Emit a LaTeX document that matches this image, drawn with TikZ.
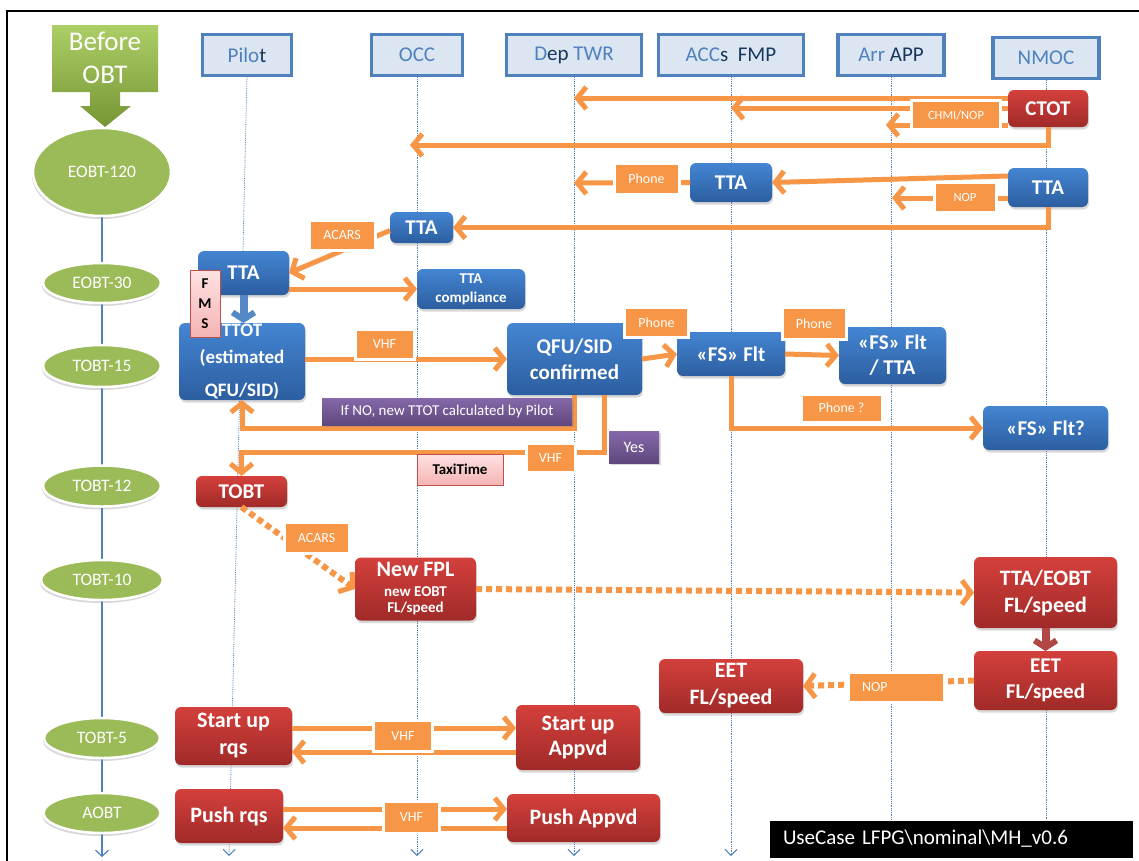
\documentclass[tikz,border=0pt]{standalone}
\usepackage{fontspec}
\setmainfont{Carlito}
\usetikzlibrary{arrows.meta,shapes.geometric,shadows,calc,backgrounds}
\definecolor{orng}{RGB}{247,150,70}
\definecolor{hblue}{RGB}{79,129,189}
\definecolor{hfill}{RGB}{220,230,242}
\definecolor{hdark}{RGB}{23,55,94}
\definecolor{btop}{RGB}{68,133,210}
\definecolor{bbot}{RGB}{44,94,160}
\definecolor{rtop}{RGB}{212,64,60}
\definecolor{rbot}{RGB}{160,42,40}
\definecolor{ptop}{RGB}{134,104,170}
\definecolor{pbot}{RGB}{95,72,125}
\definecolor{pinktop}{RGB}{255,226,226}
\definecolor{pinkbot}{RGB}{245,180,180}
\definecolor{pinkdraw}{RGB}{192,80,77}
\definecolor{egreen}{RGB}{155,187,89}
\definecolor{gtop}{RGB}{172,206,102}
\definecolor{gbot}{RGB}{118,150,52}
\definecolor{blkblue}{RGB}{84,136,198}
\definecolor{blkred}{RGB}{178,70,68}
\begin{document}
\begin{tikzpicture}[x=1pt,y=-1pt,
 every node/.style={inner sep=0pt,outer sep=0pt},
 hdr/.style={draw=hblue,line width=3.5pt,fill=hfill,text=hblue,font=\fontsize{21}{25}\selectfont},
 bx/.style={rounded corners=6pt,top color=btop,bottom color=bbot,text=white,align=center,font=\fontsize{21}{26}\selectfont\bfseries,drop shadow={shadow xshift=1pt,shadow yshift=-2.5pt,opacity=0.3}},
 rbx/.style={bx,top color=rtop,bottom color=rbot},
 lab/.style={fill=orng,draw=white,line width=3pt,text=white,font=\fontsize{14}{16}\selectfont,drop shadow={shadow xshift=1.5pt,shadow yshift=-1.5pt,opacity=0.25}},
 pbx/.style={top color=ptop,bottom color=pbot,text=white,font=\fontsize{15}{18}\selectfont,drop shadow={shadow xshift=1.5pt,shadow yshift=-2pt,opacity=0.3}},
 pk/.style={top color=pinktop,bottom color=pinkbot,draw=pinkdraw,line width=1pt,text=black,font=\fontsize{15}{20}\selectfont\bfseries,align=center},
 ell/.style={ellipse,fill=egreen,draw=white,line width=2.5pt,text=white,font=\fontsize{17.5}{19}\selectfont,drop shadow={shadow xshift=-1pt,shadow yshift=-3pt,opacity=0.3}},
 oarr/.style={draw=orng,line width=5pt,-{Straight Barb[length=9pt,width=22pt]}},
 dotarr/.style={draw=orng,line width=6pt,dash pattern=on 6pt off 4pt,-{Straight Barb[length=9pt,width=24pt,line width=5pt]}},
 life/.style={draw=hblue,line width=0.8pt,densely dotted,-{Straight Barb[length=6pt,width=12pt,line width=1pt]}},
 tl/.style={draw=hblue,line width=1.6pt},
 blk/.style={line width=8pt,-{Straight Barb[length=7pt,width=22pt,line width=6pt]}}
]
\useasboundingbox (0,0) rectangle (1139,860);
\draw[line width=2pt] (7,11) rectangle (1150,880);

% Before OBT
\shade[top color=gtop,bottom color=gbot] (52,25) -- (158,25) -- (158,92) -- (120,92) -- (120,106) -- (131,106) -- (105,127) -- (80,106) -- (90,106) -- (90,92) -- (52,92) -- cycle;
\node[text=white,font=\fontsize{27}{33}\selectfont,align=center] (before) at (105,58) {Before\\OBT};

% timeline ellipses
\node[ell,minimum width=138pt,minimum height=88pt] (e120) at (102,172) {EOBT-120};
\node[ell,minimum width=118pt,minimum height=40pt] (e30) at (102,283) {EOBT-30};
\node[ell,minimum width=118pt,minimum height=42pt] (e15) at (102,366) {TOBT-15};
\node[ell,minimum width=118pt,minimum height=41pt] (e12) at (102,486) {TOBT-12};
\node[ell,minimum width=122pt,minimum height=40pt] (e10) at (102,580) {TOBT-10};
\node[ell,minimum width=116pt,minimum height=40pt] (e5) at (102,738) {TOBT-5};
\node[ell,minimum width=117pt,minimum height=40pt] (eA) at (102,813) {AOBT};
\coordinate (bT) at (102,857);

% headers
\node[hdr,minimum width=89pt,minimum height=41pt] (hPilot) at (247,55) {Pilo\textcolor{hdark}{t}};
\node[hdr,minimum width=91pt,minimum height=41pt] (hOCC) at (417,55) {OCC};
\node[hdr,minimum width=135pt,minimum height=41pt] (hDep) at (574,55) {D\textcolor{hdark}{ep} TWR};
\node[hdr,minimum width=145pt,minimum height=41pt] (hACC) at (731,55) {ACC\textcolor{hdark}{s\ \ FMP}};
\node[hdr,minimum width=106pt,minimum height=41pt] (hArr) at (891,55) {Arr \textcolor{hdark}{APP}};
\node[hdr,minimum width=106pt,minimum height=41pt] (hNMOC) at (1046,58) {NMOC};
\coordinate (bP) at (229,856);
\coordinate (bO) at (417,856);
\coordinate (bD) at (574,856);
\coordinate (bA) at (731,856);
\coordinate (bR) at (891,856);
\coordinate (bN) at (1046,856);

% boxes
\node[rbx,minimum width=80pt,minimum height=37pt] (ctot) at (1048,108.5) {CTOT};
\node[bx,minimum width=82pt,minimum height=39pt] (ttaACC) at (731,182.5) {TTA};
\node[bx,minimum width=80pt,minimum height=39pt] (ttaN) at (1048,187.5) {TTA};
\node[bx,minimum width=63pt,minimum height=31pt] (ttaOCC) at (421.5,227.5) {TTA};
\node[bx,minimum width=91pt,minimum height=44pt] (ttaP) at (243.5,273) {TTA};
\node[bx,minimum width=108pt,minimum height=40pt,font=\fontsize{15}{19}\selectfont\bfseries] (ttaComp) at (471,289) {TTA\\compliance};
\node[bx,minimum width=126pt,minimum height=77pt,font=\fontsize{19}{27}\selectfont\bfseries] (ttot) at (242,361.5) {TTOT\\(estimated\\[6pt]QFU/SID)};
\node[bx,minimum width=135pt,minimum height=72pt] (qfu) at (574.5,359) {QFU/SID\\confirmed};
\node[bx,minimum width=108pt,minimum height=44pt] (fs1) at (731,354) {«FS» Flt};
\node[bx,minimum width=107pt,minimum height=57pt,font=\fontsize{21}{25}\selectfont\bfseries] (fs2) at (892.5,355.5) {«FS» Flt\\/ TTA};
\node[bx,minimum width=125pt,minimum height=44pt] (fs3) at (1045.5,428) {«FS» Flt?};
\node[rbx,minimum width=91pt,minimum height=31pt] (tobt) at (241.5,491.5) {TOBT};
\node[rbx,minimum width=121pt,minimum height=63pt,font=\fontsize{22}{21}\selectfont\bfseries] (fpl) at (415.5,589) {New FPL\\[-1pt]\fontsize{15}{15}\selectfont new EOBT\\[-5pt]\fontsize{15}{15}\selectfont FL/speed};
\node[rbx,minimum width=143pt,minimum height=71pt,font=\fontsize{22}{27}\selectfont\bfseries] (ttaeobt) at (1045.5,592.5) {TTA/EOBT\\FL/speed};
\node[rbx,minimum width=143pt,minimum height=59pt] (eetN) at (1045.5,680.5) {EET\\FL/speed};
\node[rbx,minimum width=144pt,minimum height=54pt,font=\fontsize{22}{27}\selectfont\bfseries] (eetA) at (731,686) {EET\\FL/speed};
\node[rbx,minimum width=117pt,minimum height=58pt,font=\fontsize{22}{27}\selectfont\bfseries] (sur) at (233.5,736) {Start up\\rqs};
\node[rbx,minimum width=124pt,minimum height=65pt,font=\fontsize{22}{25}\selectfont\bfseries] (sua) at (578,737.5) {Start up\\Appvd};
\node[rbx,minimum width=108pt,minimum height=54pt,font=\fontsize{22}{26}\selectfont\bfseries] (pr) at (229,816) {Push rqs};
\node[rbx,minimum width=153pt,minimum height=48pt,font=\fontsize{22}{26}\selectfont\bfseries] (pa) at (583.5,818) {Push Appvd};

% background: page, lifelines and timeline
\begin{scope}[on background layer]
\fill[white] (0,0) rectangle (1139,860);
\draw[life] (hPilot.south) -- (bP);
\draw[life] (hOCC.south) -- (bO);
\draw[life] (hDep.south) -- (bD);
\draw[life] (hACC.south) -- (bA);
\draw[life] (hArr.south) -- (bR);
\draw[life] (hNMOC.south) -- (bN);
\draw[tl] (e120) -- (e30);
\draw[tl] (e30) -- (e15);
\draw[tl] (e15) -- (e12);
\draw[tl] (e12) -- (e10);
\draw[tl] (e10) -- (e5);
\draw[tl] (e5) -- (eA);
\draw[tl,-{Straight Barb[length=6pt,width=13pt,line width=1.2pt]}] (eA) -- (bT);
\end{scope}

% connectors
\coordinate (a1) at (574,98);
\coordinate (a2) at (731,108);
\coordinate (a3) at (886,125);
\coordinate (a4) at (410,145);
\coordinate (a6) at (892,198);
\coordinate (a7) at (574,183);
\draw[oarr] (a1 -| ctot.west) -- (a1);
\draw[oarr] (a2 -| ctot.west) -- (a2);
\draw[oarr] (a3 -| ctot.west) -- (a3);
\draw[oarr] (ctot.south) |- (a4);
\draw[oarr] ($(ttaN.west)+(0,-11.5)$) -- (ttaACC.east);
\draw[oarr] ($(ttaN.west)+(0,10.5)$) -- (a6);
\draw[oarr] (ttaACC.west) -- (a7);
\draw[oarr] (ttaN.south) |- (ttaOCC.east);
\draw[oarr] ($(ttaOCC.west)+(0,3)$) -- (ttaP.east);
\draw[oarr] (ttaP.east |- ttaComp.west) -- (ttaComp.west);
\draw[blk,draw=blkblue] (ttaP.south) -- (ttaP.south |- ttot.north);
\draw[oarr] (ttot.east |- qfu.west) -- (qfu.west);
\draw[oarr] (qfu.east) -- (fs1.west);
\draw[oarr] (fs1.east) -- (fs2.west);
\draw[oarr] (fs1.south) |- (fs3.west);
\draw[oarr] (qfu.south) -- ++(0,33) -| (ttot.south);
\draw[oarr] ($(qfu.south)+(29.5,0)$) -- ++(0,57) -| (tobt.north);
\draw[dotarr] (tobt.south) -- (fpl.west);
\draw[dotarr] (fpl.east) -- (ttaeobt.west);
\draw[blk,draw=blkred] (ttaeobt.south) -- (eetN.north);
\draw[dotarr] (eetN.west) -- (eetA.east);
\draw[oarr] ($(sur.east)+(0,-8)$) -- ($(sua.west |- sur.east)+(0,-8)$);
\draw[oarr] ($(sua.west |- sur.east)+(0,16)$) -- ($(sur.east)+(0,16)$);
\draw[oarr] ($(pr.east)+(0,-7)$) -- ($(pa.west |- pr.east)+(0,-7)$);
\draw[oarr] ($(pa.west |- pr.east)+(0,12)$) -- ($(pr.east)+(0,12)$);

% labels
\node[lab,minimum width=89pt,minimum height=29pt,font=\fontsize{12.5}{14}\selectfont] (lCHMI) at (956,115) {CHMI/NOP};
\node[lab,minimum width=62pt,minimum height=30pt,font=\fontsize{12.5}{14}\selectfont] (lNOP1) at (965,197) {NOP};
\node[lab,minimum width=65pt,minimum height=31pt] (lPh1) at (646.5,179) {Phone};
\node[lab,minimum width=66pt,minimum height=30pt] (lAC1) at (342,235) {ACARS};
\node[lab,minimum width=59pt,minimum height=30pt] (lV1) at (384.5,344) {VHF};
\node[lab,minimum width=64pt,minimum height=30pt] (lPh2) at (656.5,322.5) {Phone};
\node[lab,minimum width=64pt,minimum height=32pt] (lPh3) at (814,323.5) {Phone};
\node[lab,minimum width=81pt,minimum height=28pt] (lPhQ) at (841.5,408) {Phone ?};
\node[lab,minimum width=49pt,minimum height=29pt] (lV2) at (550.5,457.5) {VHF};
\node[lab,minimum width=65pt,minimum height=31pt] (lAC2) at (316.5,538) {ACARS};
\node[lab,minimum width=96pt,minimum height=30pt,text width=68pt,align=left] (lNOP2) at (896,687) {NOP};
\node[lab,minimum width=59pt,minimum height=31pt] (lV3) at (403,736) {VHF};
\node[lab,minimum width=56pt,minimum height=32pt] (lV4) at (411.5,817) {VHF};

% purple and pink
\node[pbx,minimum width=250pt,minimum height=27pt] (pNo) at (447,411.5) {If NO, new TTOT calculated by Pilot};
\node[pbx,minimum width=50pt,minimum height=32pt,font=\fontsize{16}{18}\selectfont] (pYes) at (634,447) {Yes};
\node[pk,minimum width=30pt,minimum height=67pt] (fms) at (205,303.5) {F\\M\\S};
\node[pk,minimum width=86pt,minimum height=31pt] (taxi) at (460,469.5) {TaxiTime};

% use case
\node[fill=black,draw=white,line width=1pt,text=white,minimum width=364pt,minimum height=38pt,text width=336pt,align=left,font=\fontsize{21}{24}\selectfont] (uc) at (951,839) {UseCase LFPG\textbackslash nominal\textbackslash MH\_v0.6};
\end{tikzpicture}
\end{document}
